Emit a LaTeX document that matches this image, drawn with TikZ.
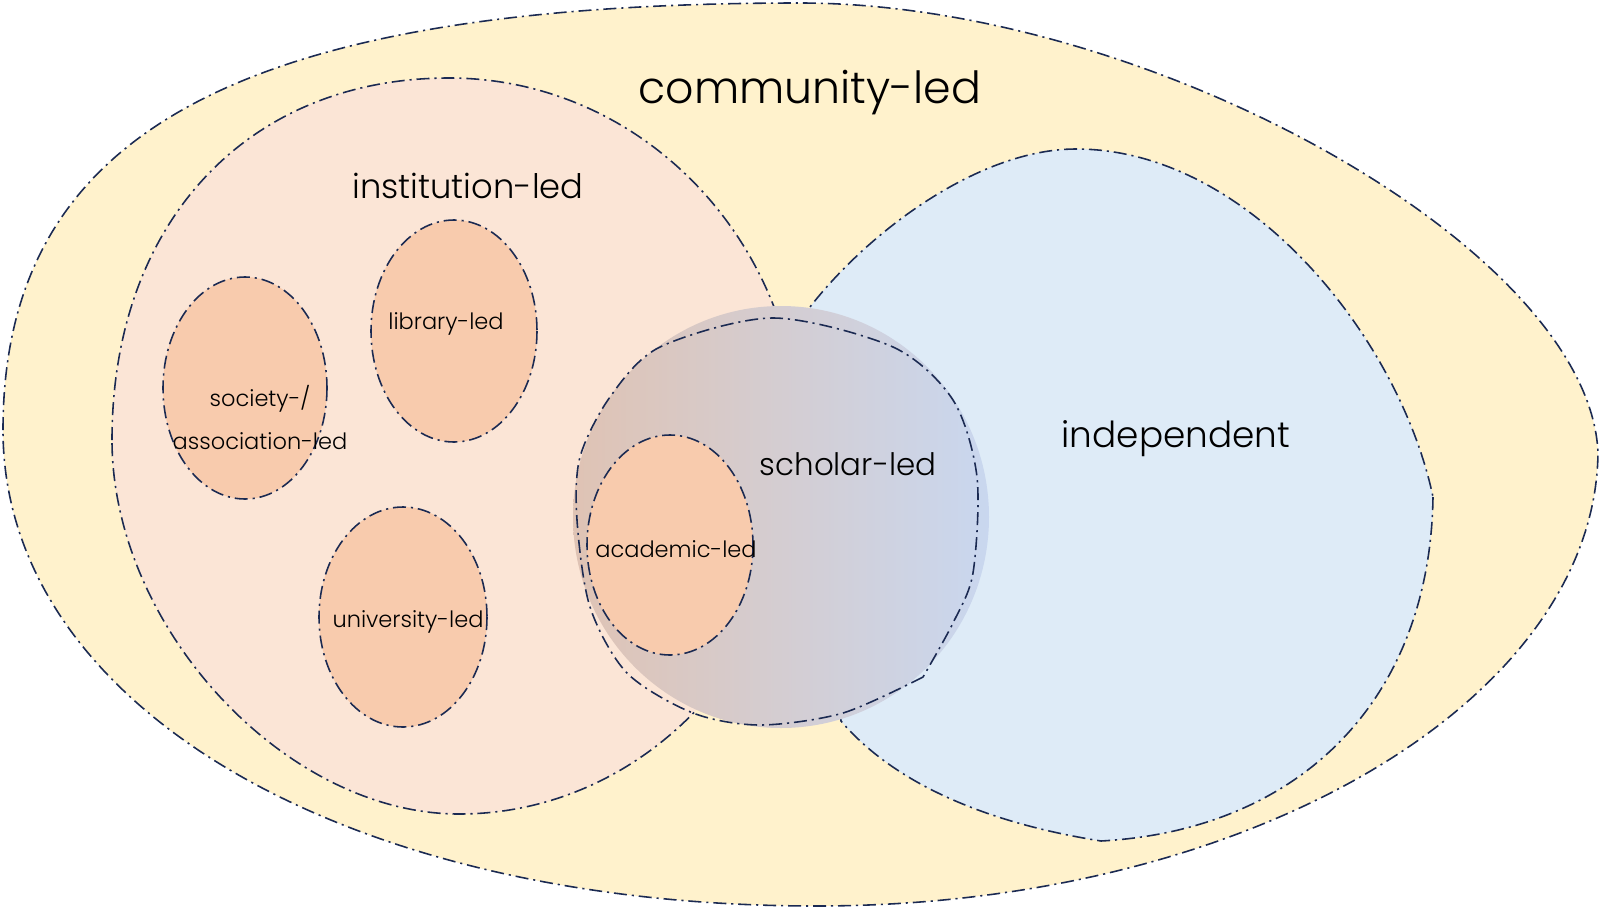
\documentclass[tikz,border=0pt]{standalone}
\usepackage{fontspec}
\IfFontExistsTF{Poppins Light}{\setmainfont{Poppins Light}}{\setmainfont{Poppins}}
\usepackage{xcolor}
\usepackage{tikz}
\definecolor{C0}{HTML}{FFF2CC}
\definecolor{C1}{HTML}{FBE5D6}
\definecolor{C2}{HTML}{F8CBAD}
\definecolor{C3}{HTML}{DEEBF7}
\definecolor{SL}{HTML}{DFC3B4}
\definecolor{SR}{HTML}{C9D7EF}
\definecolor{Line}{HTML}{1B2A52}
\begin{document}
\begin{tikzpicture}[x=0.1mm, y=-0.1mm,
  outline/.style={draw=Line, line width=0.45pt, dash pattern=on 3.7pt off 1.4pt on 0.6pt off 1.4pt},
  big/.style={anchor=base, font=\fontsize{12.6}{15}\selectfont},
  mid/.style={anchor=base, font=\fontsize{9.6}{12}\selectfont},
  small/.style={anchor=base, font=\fontsize{6.4}{12}\selectfont, align=center}]%
\useasboundingbox (0,0) rectangle (1600,908);%
\filldraw[outline, fill=C0] (3,430) .. controls (3,131) and (242,3) .. (800,3) .. controls (1150,3) and (1590,250) .. (1598,453) .. controls (1595,700) and (1250,906) .. (816,906) .. controls (344,906) and (3,706) .. (3,430) -- cycle;%
\filldraw[outline, fill=C1] (112,440) .. controls (112,223) and (247,78) .. (449,78) .. controls (643,78) and (800,243) .. (800,446) .. controls (800,649) and (647,814) .. (459,814) .. controls (285,814) and (112,627) .. (112,440) -- cycle;%
\filldraw[outline, fill=C3] (1433,497) .. controls (1430,700) and (1300,830) .. (1101,841) .. controls (1000,825) and (900,790) .. (841,721) -- (810,307) .. controls (870,230) and (980,149) .. (1076,149) .. controls (1250,149) and (1400,340) .. (1433,497) -- cycle;%
\filldraw[outline, fill=C2] (245,388) ellipse [x radius=82, y radius=111];%
\filldraw[outline, fill=C2] (454,331) ellipse [x radius=83, y radius=111];%
\filldraw[outline, fill=C2] (403,617) ellipse [x radius=84, y radius=110];%
\shade[left color=SL, right color=SR] (781,517) ellipse [x radius=208, y radius=211];%
\draw[outline] (923,677) -- plot[smooth] coordinates {(923,677) (843,713) (760,725) (693,713) (627,673) (590,607) (577,520) (580,457) (610,397) (660,347) (773,318) (893,347) (953,400) (977,477) (973,573) (953,623) (923,677)} -- cycle;%
\filldraw[outline, fill=C2] (670,545) ellipse [x radius=83, y radius=110];%
\node[big] (community) at (810,103) {community-led};%
\node[mid] (institution) at (468,198) {institution-led};%
\node[mid, font=\fontsize{10.2}{12}\selectfont] (independent) at (1176,447) {independent};%
\node[mid, font=\fontsize{8.8}{12}\selectfont] (scholar) at (848,475) {scholar-led};%
\node[small] (library) at (446,329) {library-led};%
\node[small] (society) at (260,449) {society-/\\association-led};%
\node[small] (university) at (408,627) {university-led};%
\node[small] (academic) at (676,557) {academic-led};%
\end{tikzpicture}
\end{document}
